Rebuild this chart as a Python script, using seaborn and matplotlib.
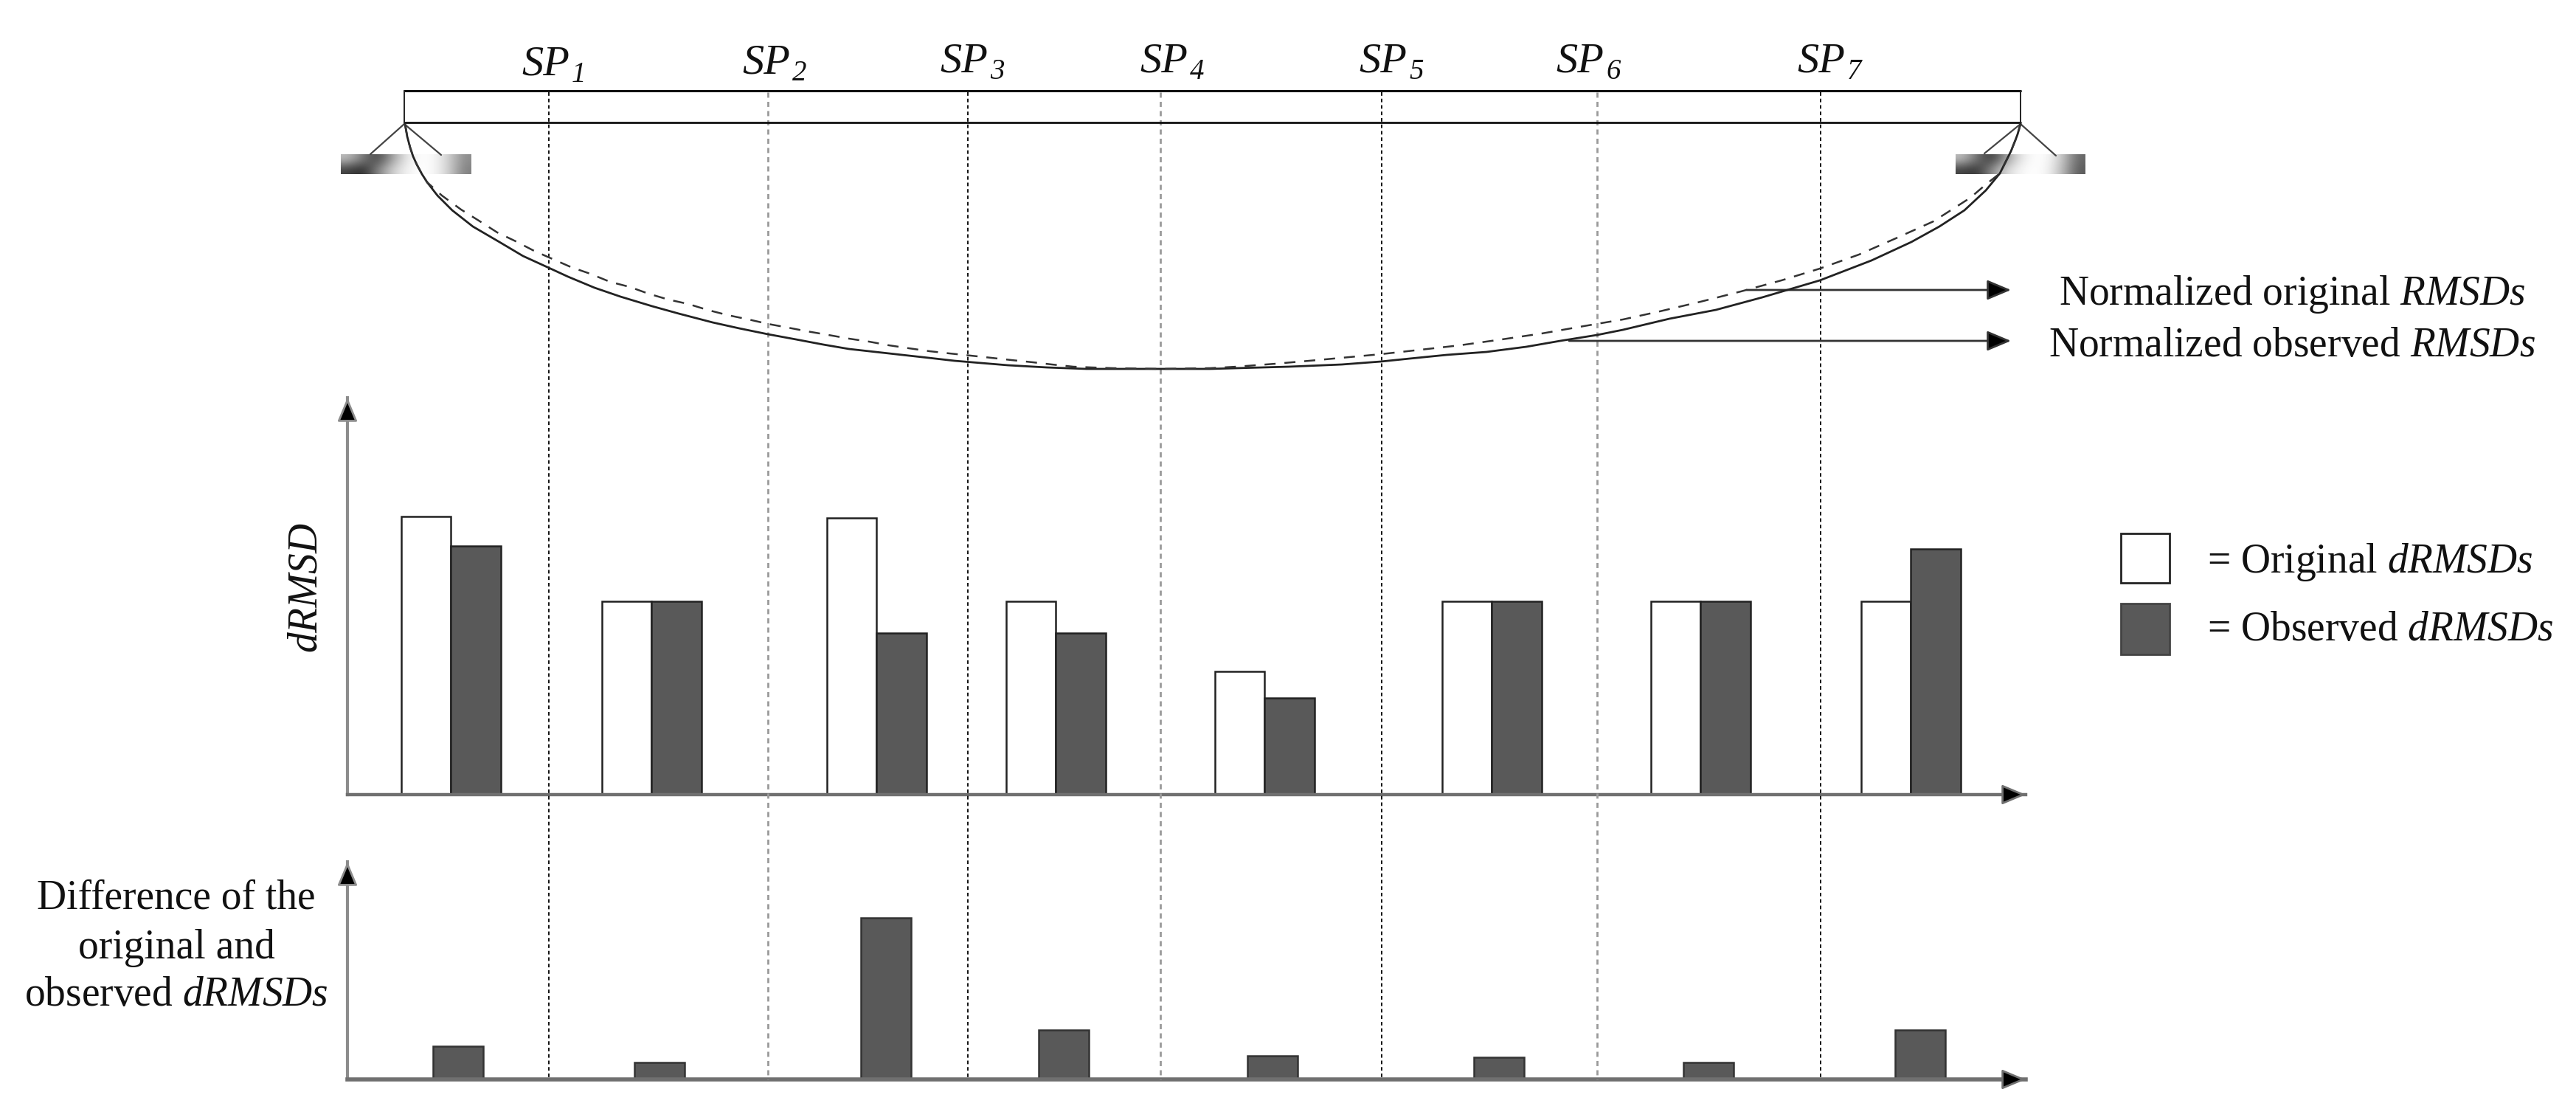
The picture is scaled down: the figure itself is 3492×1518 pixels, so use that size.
import numpy as np
import pandas as pd
import matplotlib
matplotlib.use('Agg')
import matplotlib.pyplot as plt
from matplotlib.patches import Rectangle
import seaborn as sns

# values, in picture pixels
sp_labels = ['SP', 'SP', 'SP', 'SP', 'SP', 'SP', 'SP']
sp_numbers = ['1', '2', '3', '4', '5', '6', '7']
sp_lines = [744, 1041, 1312, 1573, 1873, 2165, 2468]
sp_blurred = [False, True, False, True, False, True, False]

original_x = [549, 552, 556, 560, 565, 572, 579, 593, 613, 641, 677, 709, 744, 770, 806, 841, 884, 920, 966, 1002,
              1041, 1079, 1116, 1151, 1187, 1223, 1259, 1294, 1330, 1366, 1419, 1473, 1573, 1640,
              1747, 1819, 1872, 1911, 1961, 2015, 2069, 2115, 2165, 2200, 2263, 2326, 2389, 2467,
              2537, 2591, 2629, 2663, 2692, 2711, 2720, 2726, 2732, 2735, 2739]
original_y = [168, 185, 200, 212, 223, 236, 247, 265, 285, 307, 328, 347, 363, 375, 390, 402, 415, 425, 437, 445,
              453, 460, 467, 473, 477, 481, 485, 489, 492, 495, 498, 500, 500, 500,
              497, 494, 490, 486, 481, 477, 470, 462, 454, 447, 432, 420, 403, 380,
              353, 328, 307, 285, 258, 235, 217, 205, 190, 182, 168]

observed_x = [549, 552, 556, 560, 565, 572, 579, 599, 625, 649, 674, 699, 724, 749, 774, 800, 827, 854, 879, 906,
              933, 959, 986, 1015, 1041, 1068, 1094, 1123, 1151, 1178, 1205, 1232, 1260, 1287, 1316,
              1344, 1371, 1400, 1426, 1455, 1480, 1509, 1573, 1640, 1676, 1729, 1786, 1840, 1872,
              1926, 1979, 2036, 2090, 2147, 2200, 2250, 2305, 2360, 2415, 2467, 2520, 2570, 2621,
              2671, 2692, 2711, 2720, 2726, 2732, 2735, 2739]
observed_y = [168, 185, 200, 212, 223, 236, 247, 265, 284, 299, 315, 327, 340, 351, 362, 371, 382, 389, 398, 406,
              412, 420, 427, 433, 439, 444, 449, 454, 459, 463, 468, 472, 476, 479, 482,
              485, 488, 491, 494, 497, 498, 499, 500, 499, 497, 493, 488, 483, 480,
              474, 468, 460, 452, 442, 433, 422, 409, 395, 380, 364, 345, 323, 300,
              268, 250, 235, 217, 205, 190, 182, 168]

pair_pos = [611, 883, 1188, 1431, 1714, 2022, 2305, 2590]
original_drmsd = [377, 262, 375, 262, 167, 262, 262, 262]
observed_drmsd = [337, 262, 219, 219, 131, 262, 262, 333]

diff_pos = [621, 894, 1201, 1442, 1725, 2032, 2316, 2603]
diff_drmsd = [45, 23, 219, 67, 32, 30, 23, 67]

# grey levels of the blurred supports
left_support = [[.75, .50, .25, .60, .90, 1.0, .97, .80, .55],
                [.25, .15, .50, .80, .95, 1.0, .97, .80, .50]]
right_support = [[.75, .45, .20, .60, .90, 1.0, .97, .75, .40],
                 [.25, .20, .55, .85, .97, 1.0, .95, .70, .35]]

W, H = 3492, 1518
DARK = '#595959'
INK = '#111111'

sns.set_theme(style='white')
plt.rcParams['font.family'] = ['Liberation Serif', 'DejaVu Serif']
plt.rcParams['mathtext.fontset'] = 'custom'
plt.rcParams['mathtext.rm'] = 'Liberation Serif'
plt.rcParams['mathtext.it'] = 'Liberation Serif:italic'


def arrow(ax, start, end, color='black', lw=1.0):
    ax.annotate('', xy=end, xytext=start,
                arrowprops=dict(arrowstyle='-|>,head_length=1.0,head_width=0.42', mutation_scale=10,
                                shrinkA=0, shrinkB=0, color=color, lw=lw, fc='black', ec=color))


def panel(fig, left, right, top, bottom):
    ax = fig.add_axes([left / W, 1 - bottom / H, (right - left) / W, (bottom - top) / H])
    ax.set_xlim(left, right)
    ax.set_ylim(0, bottom - top)
    return ax


def finish_panel(ax, left, right, top, bottom, base_lw):
    ax.set_xlim(left, right)
    ax.set_ylim(0, bottom - top)
    ax.set_xticks([])
    ax.set_yticks([])
    ax.set_xlabel('')
    ax.set_ylabel('')
    sns.despine(ax=ax)
    ax.patch.set_alpha(0)
    ax.spines['left'].set_color('#8c8c8c')
    ax.spines['left'].set_linewidth(1.5)
    ax.spines['bottom'].set_color('#707070')
    ax.spines['bottom'].set_linewidth(base_lw)


fig = plt.figure(figsize=(W / 200, H / 200), dpi=200, facecolor='white')

# dRMSD bars
ax_mid = panel(fig, 471, 2746, 539, 1077)
bars = pd.DataFrame({
    'pos': pair_pos * 2,
    'value': original_drmsd + observed_drmsd,
    'series': ['Original'] * len(pair_pos) + ['Observed'] * len(pair_pos),
})
sns.barplot(data=bars, x='pos', y='value', hue='series', hue_order=['Original', 'Observed'],
            palette={'Original': 'white', 'Observed': DARK}, native_scale=True, dodge=True,
            width=135 / 243, gap=0, saturation=1, edgecolor='#222222', linewidth=0.9,
            legend=False, ax=ax_mid)
finish_panel(ax_mid, 471, 2746, 539, 1077, 1.6)

# difference bars
ax_low = panel(fig, 471, 2746, 1168, 1463)
diffs = pd.DataFrame({'pos': diff_pos, 'value': diff_drmsd})
sns.barplot(data=diffs, x='pos', y='value', color=DARK, native_scale=True,
            width=68 / 241, saturation=1, edgecolor='#333333', linewidth=0.9,
            legend=False, ax=ax_low)
finish_panel(ax_low, 471, 2746, 1168, 1463, 2.0)

# everything else sits on a full figure axes in pixels
ax = fig.add_axes([0, 0, 1, 1])
ax.patch.set_alpha(0)
ax.imshow(left_support, extent=(462, 639, 236, 209), cmap='gray', vmin=0, vmax=1,
          aspect='auto', interpolation='bicubic', zorder=1)
ax.imshow(right_support, extent=(2651, 2827, 236, 209), cmap='gray', vmin=0, vmax=1,
          aspect='auto', interpolation='bicubic', zorder=1)

# beam
ax.plot([548, 2739], [123, 123], color='#111111', lw=1.1, zorder=3)
ax.plot([548, 2739], [166, 166], color='#111111', lw=1.0, zorder=3)
ax.plot([548, 548], [123, 166], color='#222222', lw=0.7, zorder=3)
ax.plot([2739, 2739], [123, 166], color='#222222', lw=0.7, zorder=3)
for x_end, y_end in [(502, 209), (598, 210), (2690, 208), (2787, 211)]:
    x_start = 548 if x_end < 1000 else 2739
    ax.plot([x_start, x_end], [168, y_end], color='#444444', lw=0.8, zorder=3)

# SP dividers
for pos, blurred in zip(sp_lines, sp_blurred):
    line_color = '#9a9a9a' if blurred else '#111111'
    line_width = 1.0 if blurred else 0.7
    ax.plot([pos, pos], [125, 1463], color=line_color, lw=line_width, zorder=2,
            linestyle=(0, (2.5, 2.0)))

# deflection curves
sns.lineplot(x=original_x, y=original_y, sort=False, estimator=None, color='#222222', lw=1.0,
             ax=ax, legend=False, zorder=4)
sns.lineplot(x=observed_x, y=observed_y, sort=False, estimator=None, color='#333333', lw=0.9,
             linestyle=(0, (6, 4.8)), ax=ax, legend=False, zorder=4)

# axis arrows
arrow(ax, (471, 600), (471, 539), color='#8c8c8c')
arrow(ax, (2650, 1077), (2746, 1077), color='#707070')
arrow(ax, (471, 1230), (471, 1168), color='#8c8c8c')
arrow(ax, (2650, 1463), (2746, 1463), color='#707070')

# curve callouts
arrow(ax, (2368, 393), (2726, 393), color='#333333')
arrow(ax, (2127, 462), (2726, 462), color='#333333')

fs = 20
ax.text(3107, 399, r'Normalized original $\mathit{RMSDs}$', fontsize=fs, ha='center', va='center', color=INK)
ax.text(3107, 469, r'Normalized observed $\mathit{RMSDs}$', fontsize=fs, ha='center', va='center', color=INK)

sp_left = [707, 1006, 1274, 1545, 1842, 2109, 2436]
sp_base = [102, 100, 98, 98, 98, 98, 98]
for label, num, x_text, y_text in zip(sp_labels, sp_numbers, sp_left, sp_base):
    ax.text(x_text, y_text, label, fontsize=21, style='italic', ha='left', va='baseline', color=INK)
    ax.text(x_text + 68, y_text + 9, num, fontsize=14, style='italic', ha='left', va='baseline', color=INK)

ax.text(416, 797, r'$\mathit{dRMSD}$', fontsize=fs, rotation=90, ha='center', va='center', color=INK)

ax.text(239, 1218, 'Difference of the', fontsize=fs, ha='center', va='center', color=INK)
ax.text(239, 1285, 'original and', fontsize=fs, ha='center', va='center', color=INK)
ax.text(239, 1349, r'observed $\mathit{dRMSDs}$', fontsize=fs, ha='center', va='center', color=INK)

# legend
ax.add_patch(Rectangle((2875, 723), 66, 67, facecolor='white', edgecolor='#222222', lw=1.0, zorder=3))
ax.add_patch(Rectangle((2875, 818), 66, 69, facecolor=DARK, edgecolor='#444444', lw=1.0, zorder=3))
ax.text(2992, 762, r'= Original $\mathit{dRMSDs}$', fontsize=fs, ha='left', va='center', color=INK)
ax.text(2992, 854, r'= Observed $\mathit{dRMSDs}$', fontsize=fs, ha='left', va='center', color=INK)

ax.set_xlim(0, W)
ax.set_ylim(H, 0)
ax.set_axis_off()

fig.savefig('out.png', dpi=200, facecolor='white')
